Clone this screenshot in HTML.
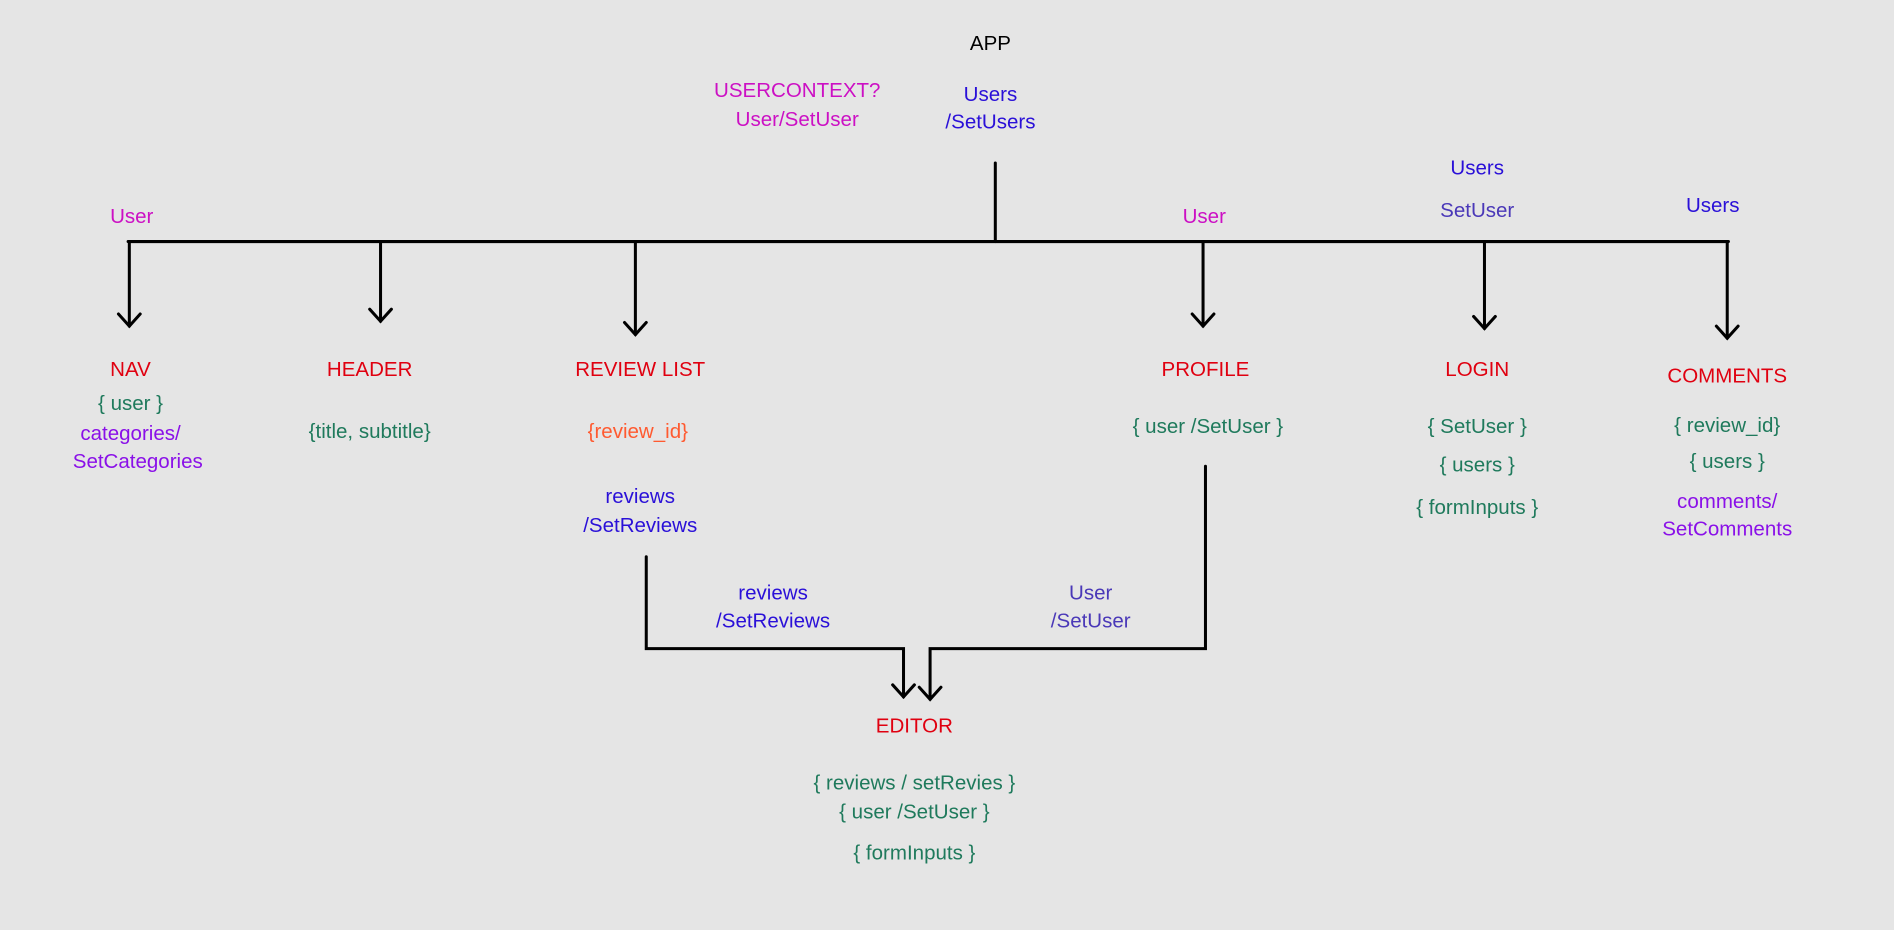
<!DOCTYPE html>
<html><head><meta charset="utf-8"><style>
html,body{margin:0;padding:0;background:#e5e5e5;}
svg{display:block}
text{font-family:"Liberation Sans",sans-serif;font-size:17px;text-anchor:middle;dominant-baseline:middle;font-stretch:condensed}
.r{fill:#e00010}.g{fill:#1f7a5c}.p{fill:#8a10e8}.b{fill:#2a10d8}.m{fill:#cc10c4}.o{fill:#ff5a30}.s{fill:#4a38b8}
</style></head><body>
<svg width="1894" height="930" viewBox="0 0 1568 770" xmlns="http://www.w3.org/2000/svg">
<rect width="1568" height="770" fill="#e5e5e5"/>
<g stroke="#000" stroke-width="2.5" fill="none" stroke-linecap="round">
<line x1="824" y1="135" x2="824" y2="200"/>
<line x1="106" y1="200" x2="1431" y2="200"/>
<line x1="107" y1="200" x2="107" y2="270"/><polyline points="98,260 107,270 116,260"/>
<line x1="315" y1="200" x2="315" y2="266"/><polyline points="306,256 315,266 324,256"/>
<line x1="526" y1="200" x2="526" y2="277"/><polyline points="517,267 526,277 535,267"/>
<line x1="996" y1="200" x2="996" y2="270"/><polyline points="987,260 996,270 1005,260"/>
<line x1="1229" y1="200" x2="1229" y2="272"/><polyline points="1220,262 1229,272 1238,262"/>
<line x1="1430" y1="200" x2="1430" y2="280"/><polyline points="1421,270 1430,280 1439,270"/>
<polyline points="535,461 535,537 748,537 748,577"/><polyline points="739,567 748,577 757,567"/>
<polyline points="998,386 998,537 770,537 770,579"/><polyline points="761,569 770,579 779,569"/>
</g>
<text x="820" y="37" fill="#000">APP</text>
<text x="660" y="76" class="m">USERCONTEXT?</text>
<text x="660" y="100" class="m">User/SetUser</text>
<text x="820" y="79" class="b">Users</text>
<text x="820" y="102" class="b">/SetUsers</text>
<text x="109" y="180" class="m">User</text>
<text x="997" y="180" class="m">User</text>
<text x="1223" y="140" class="b">Users</text>
<text x="1223" y="175" class="s">SetUser</text>
<text x="1418" y="171" class="b">Users</text>
<text x="108" y="307" class="r">NAV</text>
<text x="108" y="335" class="g">{ user }</text>
<text x="108" y="360" class="p">categories/</text>
<text x="114" y="383" class="p">SetCategories</text>
<text x="306" y="307" class="r">HEADER</text>
<text x="306" y="358" class="g">{title, subtitle}</text>
<text x="530" y="307" class="r">REVIEW LIST</text>
<text x="528" y="358" class="o">{review_id}</text>
<text x="530" y="412" class="b">reviews</text>
<text x="530" y="436" class="b">/SetReviews</text>
<text x="998" y="307" class="r">PROFILE</text>
<text x="1000" y="354" class="g">{ user /SetUser }</text>
<text x="1223" y="307" class="r">LOGIN</text>
<text x="1223" y="354" class="g">{ SetUser }</text>
<text x="1223" y="386" class="g">{ users }</text>
<text x="1223" y="421" class="g">{ formInputs }</text>
<text x="1430" y="312" class="r">COMMENTS</text>
<text x="1430" y="353" class="g">{ review_id}</text>
<text x="1430" y="383" class="g">{ users }</text>
<text x="1430" y="416" class="p">comments/</text>
<text x="1430" y="439" class="p">SetComments</text>
<text x="640" y="492" class="b">reviews</text>
<text x="640" y="515" class="b">/SetReviews</text>
<text x="903" y="492" class="s">User</text>
<text x="903" y="515" class="s">/SetUser</text>
<text x="757" y="602" class="r">EDITOR</text>
<text x="757" y="649" class="g">{ reviews / setRevies }</text>
<text x="757" y="673" class="g">{ user /SetUser }</text>
<text x="757" y="707" class="g">{ formInputs }</text>
</svg>
</body></html>
